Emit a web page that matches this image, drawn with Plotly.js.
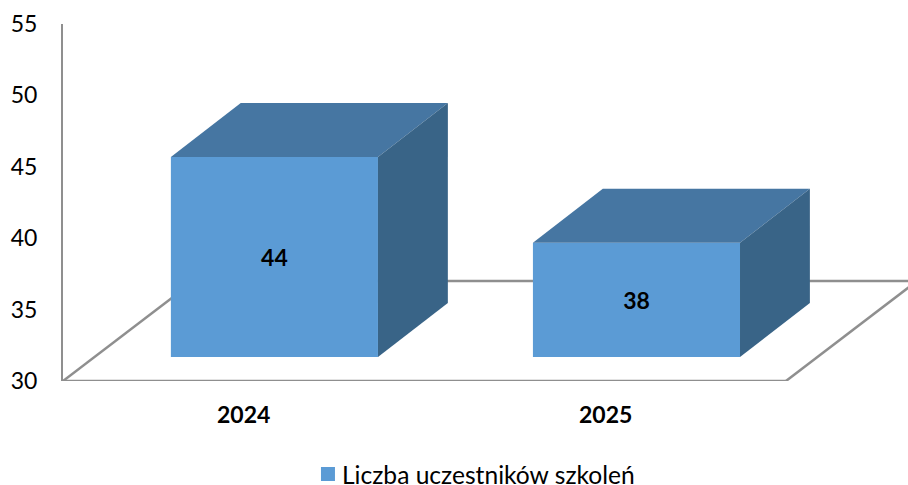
<!DOCTYPE html>
<html>
<head>
<meta charset="utf-8">
<script src="https://cdn.plot.ly/plotly-3.0.1.min.js"></script>
<style>html,body{margin:0;padding:0;background:#fff;overflow:hidden}#chart{width:908px;height:485px}</style>
</head>
<body>
<div id="chart"></div>
<script>
var categories = ['2024', '2025'];
var seriesName = 'Liczba uczestników szkoleń';
var values = [44, 38];
var yTicks = [30, 35, 40, 45, 50, 55];

// pseudo-3D geometry, in axis units
var axisMin = 30;
var floorLift = 1.68, barWidth = 0.572, barDepthX = 0.193, barDepthY = 3.78;
var floorDepthX = 0.362, floorDepthY = 7.0, labelShift = 0.085;
var xMin = -0.584, xMax = 1.75, floorRight = 1.413;
var axisGray = '#8f8f8f';
var fontName = 'Lato, Carlito, Calibri, sans-serif';

var traces = [{
  type: 'bar', name: seriesName, x: [0, 1],
  y: values.map(function (v) { return v - axisMin; }),
  base: values.map(function () { return axisMin + floorLift; }),
  width: barWidth,
  marker: { color: '#5B9BD5' },
  text: values.map(String), textposition: 'inside', insidetextanchor: 'middle',
  constraintext: 'none', textangle: 0,
  insidetextfont: { family: fontName, size: 23, color: '#000', weight: 700 },
  hoverinfo: 'skip', showlegend: true
}];

values.forEach(function (v, i) {
  var l = i - barWidth / 2, r = i + barWidth / 2;
  var top = v + floorLift, bot = axisMin + floorLift;
  traces.push({
    type: 'scatter', mode: 'lines', fill: 'toself', fillcolor: '#4676A2',
    line: { width: 0 }, showlegend: false, hoverinfo: 'skip',
    x: [l, r, r + barDepthX, l + barDepthX, l],
    y: [top, top, top + barDepthY, top + barDepthY, top]
  });
  traces.push({
    type: 'scatter', mode: 'lines', fill: 'toself', fillcolor: '#396487',
    line: { width: 0 }, showlegend: false, hoverinfo: 'skip',
    x: [r, r + barDepthX, r + barDepthX, r, r],
    y: [top, top + barDepthY, bot + barDepthY, bot, top]
  });
});

function floorLine(x0, y0, x1, y1) {
  return { type: 'line', layer: 'below', xref: 'x', yref: 'y', x0: x0, y0: y0, x1: x1, y1: y1,
           line: { color: axisGray, width: 2.5 } };
}

var layout = {
  width: 908, height: 485,
  margin: { l: 63, r: 0, t: 24, b: 104 },
  paper_bgcolor: '#fff', plot_bgcolor: '#fff',
  font: { family: fontName, color: '#000' },
  hovermode: false,
  xaxis: {
    range: [xMin, xMax], tickmode: 'array',
    tickvals: categories.map(function (c, i) { return i - labelShift; }),
    ticktext: categories,
    showgrid: false, zeroline: false, showline: false,
    ticks: 'outside', ticklen: 13, tickcolor: 'rgba(0,0,0,0)',
    tickfont: { family: fontName, size: 23, color: '#000', weight: 700 }
  },
  yaxis: {
    range: [axisMin, 55], tickmode: 'array', tickvals: yTicks,
    showgrid: false, zeroline: false, showline: true, linecolor: axisGray, linewidth: 2,
    ticks: 'outside', ticklen: 19, tickcolor: 'rgba(0,0,0,0)',
    tickfont: { family: fontName, size: 23, color: '#000' }
  },
  shapes: [
    floorLine(xMin, axisMin, floorRight, axisMin),
    floorLine(xMin, axisMin, xMin + floorDepthX, axisMin + floorDepthY),
    floorLine(floorRight, axisMin, floorRight + floorDepthX, axisMin + floorDepthY),
    floorLine(xMin + floorDepthX, axisMin + floorDepthY, floorRight + floorDepthX, axisMin + floorDepthY)
  ],
  showlegend: true,
  legend: {
    orientation: 'h', xref: 'paper', yref: 'container', x: 0.2828, xanchor: 'left', y: 0.0165, yanchor: 'bottom',
    font: { family: fontName, size: 24.6, color: '#000' }, bgcolor: 'rgba(0,0,0,0)'
  }
};

Plotly.newPlot('chart', traces, layout, { displayModeBar: false, staticPlot: true }).then(function (gd) {
  // match the reference's larger legend swatch and tighter gap
  var swatch = gd.querySelector('.legend .legendpoints path');
  if (swatch) {
    swatch.setAttribute('d', 'M7,7H-7V-7H7Z');
    swatch.setAttribute('transform', 'translate(26,0)');
  }
  // seat the legend in the bottom strip, where its tall default box would not fit
  var legend = gd.querySelector('.legend');
  if (legend) {
    var m = /translate\(\s*([-\d.]+)[ ,]+([-\d.]+)\s*\)/.exec(legend.getAttribute('transform') || '');
    if (m) legend.setAttribute('transform', 'translate(' + m[1] + ',' + (parseFloat(m[2]) + 19.5) + ')');
  }
});
</script>
</body>
</html>
